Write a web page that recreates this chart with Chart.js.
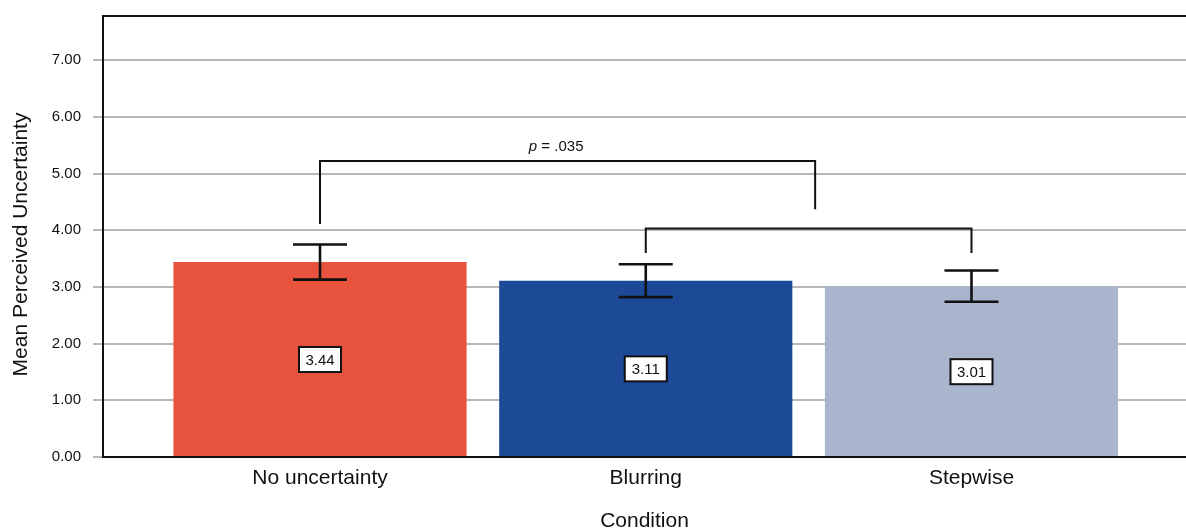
<!DOCTYPE html>
<html>
<head>
<meta charset="utf-8">
<script src="https://cdn.jsdelivr.net/npm/chart.js@4.4.1/dist/chart.umd.min.js"></script>
<style>
  html, body { margin: 0; padding: 0; background: #ffffff; }
  canvas { display: block; }
</style>
</head>
<body>
<canvas id="chart" width="1186" height="530"></canvas>
<script>
// Conditions and their positions on the x scale
const conditions = ['No uncertainty', 'Blurring', 'Stepwise'];
const positions = [1, 2, 3];

// Mean perceived uncertainty and its error-bar limits
const means = [3.44, 3.11, 3.01];
const ciLow = [3.13, 2.82, 2.74];
const ciHigh = [3.75, 3.40, 3.29];

const barColors = ['#e8533d', '#1c4a96', '#a9b5cc'];

// Y tick values
const yTicks = [0, 1, 2, 3, 4, 5, 6, 7];

// Significance brackets (in data units)
const bracketFromX = [1, 2];
const bracketToX = [2.52, 3];
const bracketTopY = [5.22, 4.03];
const bracketLeftEndY = [4.11, 3.60];
const bracketRightEndY = [4.37, 3.60];

// p-value annotation
const pValueText = ' = .035';
const pValueX = 1.725;
const pValueY = 5.48;

const yAxisTitle = 'Mean Perceived Uncertainty';
const xAxisTitle = 'Condition';

const FONT = "'Liberation Sans', Arial, Helvetica, sans-serif";

const annotations = {
  id: 'annotations',
  afterDatasetsDraw(chart) {
    const { ctx, chartArea, scales: { x, y } } = chart;
    ctx.save();

    // top frame line
    ctx.strokeStyle = '#111';
    ctx.lineWidth = 2;
    ctx.beginPath();
    ctx.moveTo(chartArea.left - 1, chartArea.top);
    ctx.lineTo(chartArea.right, chartArea.top);
    ctx.stroke();

    // error bars
    ctx.lineWidth = 2.6;
    ctx.lineCap = 'butt';
    positions.forEach((p, i) => {
      const px = x.getPixelForValue(p);
      const yl = y.getPixelForValue(ciLow[i]);
      const yh = y.getPixelForValue(ciHigh[i]);
      const half = 27;
      ctx.beginPath();
      ctx.moveTo(px, yl); ctx.lineTo(px, yh);
      ctx.moveTo(px - half, yl); ctx.lineTo(px + half, yl);
      ctx.moveTo(px - half, yh); ctx.lineTo(px + half, yh);
      ctx.stroke();
    });

    // significance brackets
    ctx.lineWidth = 2;
    ctx.lineJoin = 'miter';
    bracketFromX.forEach((fx, i) => {
      const x1 = x.getPixelForValue(fx);
      const x2 = x.getPixelForValue(bracketToX[i]);
      const yt = y.getPixelForValue(bracketTopY[i]);
      const yl = y.getPixelForValue(bracketLeftEndY[i]);
      const yr = y.getPixelForValue(bracketRightEndY[i]);
      ctx.beginPath();
      ctx.moveTo(x1, yl);
      ctx.lineTo(x1, yt);
      ctx.lineTo(x2, yt);
      ctx.lineTo(x2, yr);
      ctx.stroke();
    });

    // p-value text: italic "p" followed by the value
    ctx.fillStyle = '#111';
    ctx.textBaseline = 'middle';
    ctx.textAlign = 'left';
    const italic = 'italic 15px ' + FONT;
    const normal = '15px ' + FONT;
    ctx.font = italic;
    const wP = ctx.measureText('p').width;
    ctx.font = normal;
    const wRest = ctx.measureText(pValueText).width;
    const cx = x.getPixelForValue(pValueX);
    const cy = y.getPixelForValue(pValueY);
    const startX = cx - (wP + wRest) / 2;
    ctx.font = italic;
    ctx.fillText('p', startX, cy);
    ctx.font = normal;
    ctx.fillText(pValueText, startX + wP, cy);

    // value labels in boxes at half bar height
    ctx.textAlign = 'center';
    ctx.font = '15px ' + FONT;
    means.forEach((m, i) => {
      const px = x.getPixelForValue(positions[i]);
      const py = y.getPixelForValue(m / 2);
      const w = 42, h = 25;
      ctx.fillStyle = '#ffffff';
      ctx.fillRect(px - w / 2, py - h / 2, w, h);
      ctx.strokeStyle = '#111';
      ctx.lineWidth = 2;
      ctx.strokeRect(px - w / 2, py - h / 2, w, h);
      ctx.fillStyle = '#111';
      ctx.fillText(m.toFixed(2), px, py + 1);
    });

    // y axis title
    ctx.save();
    ctx.translate(21, (chartArea.top + chartArea.bottom) / 2 + 8);
    ctx.rotate(-Math.PI / 2);
    ctx.font = '21px ' + FONT;
    ctx.fillStyle = '#111';
    ctx.textAlign = 'center';
    ctx.textBaseline = 'middle';
    ctx.fillText(yAxisTitle, 0, 0);
    ctx.restore();

    ctx.restore();
  }
};

new Chart(document.getElementById('chart'), {
  type: 'bar',
  data: {
    datasets: [{
      data: positions.map((p, i) => ({ x: p, y: means[i] })),
      backgroundColor: barColors,
      borderWidth: 0,
      categoryPercentage: 0.9,
      barPercentage: 1.0
    }]
  },
  options: {
    responsive: false,
    animation: false,
    devicePixelRatio: 1,
    layout: { padding: { top: 16, right: 0, left: 0, bottom: 0 } },
    plugins: {
      legend: { display: false },
      tooltip: { enabled: false }
    },
    scales: {
      x: {
        type: 'linear',
        offset: false,
        bounds: 'ticks',
        min: 0.3338,
        max: 3.6585,
        afterBuildTicks(scale) {
          scale.ticks = positions.map(v => ({ value: v }));
        },
        afterFit(scale) {
          scale.height = 73;
          scale.paddingLeft = 0;
          scale.paddingRight = 0;
        },
        grid: { display: false, drawTicks: false },
        border: { display: true, color: '#111', width: 2 },
        ticks: {
          autoSkip: false,
          maxRotation: 0,
          padding: 9,
          color: '#111',
          font: { family: FONT, size: 21 },
          callback: (v) => {
            const i = positions.indexOf(v);
            return i >= 0 ? conditions[i] : '';
          }
        },
        title: {
          display: true,
          text: xAxisTitle,
          color: '#111',
          font: { family: FONT, size: 21, lineHeight: 1 },
          padding: { top: 0, bottom: -2 }
        }
      },
      y: {
        min: 0,
        max: 7.78,
        afterBuildTicks(scale) {
          scale.ticks = yTicks.map(v => ({ value: v }));
        },
        afterFit(scale) {
          scale.width = 103;
          scale.paddingTop = 0;
          scale.paddingBottom = 0;
        },
        grid: {
          color: '#b8b8b8',
          lineWidth: 2,
          tickLength: 10,
          tickColor: '#b8b8b8'
        },
        border: { display: true, color: '#111', width: 2 },
        ticks: {
          padding: 12,
          color: '#111',
          font: { family: FONT, size: 15 },
          callback: (v) => Number(v).toFixed(2)
        }
      }
    }
  },
  plugins: [annotations]
});
</script>
</body>
</html>
